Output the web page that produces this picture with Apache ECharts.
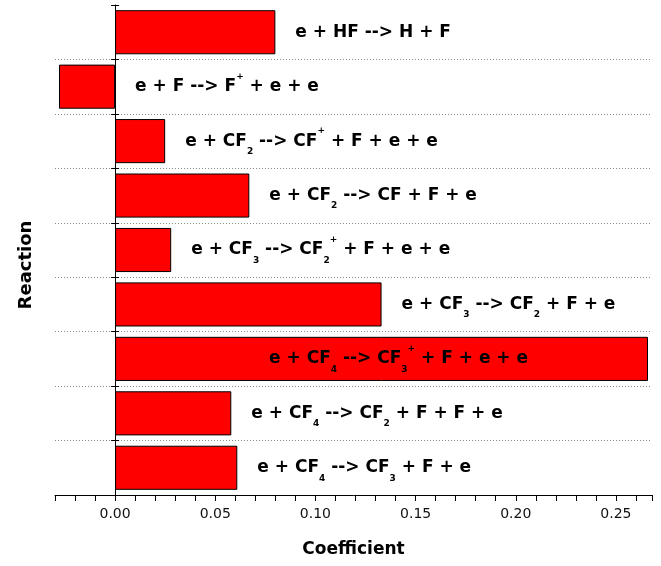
<!DOCTYPE html>
<html><head><meta charset="utf-8">
<script src="https://cdn.jsdelivr.net/npm/echarts@6/dist/echarts.min.js"></script>
<style>html,body{margin:0;padding:0;background:#fff}#c{width:661px;height:566px}</style>
</head><body><div id="c"></div>
<script>
// Reaction names: "_x" = subscript, "^x" = superscript
const reactions = [
  'e + HF --> H + F',
  'e + F --> F^+ + e + e',
  'e + CF_2 --> CF^+ + F + e + e',
  'e + CF_2 --> CF + F + e',
  'e + CF_3 --> CF_2^+ + F + e + e',
  'e + CF_3 --> CF_2 + F + e',
  'e + CF_4 --> CF_3^+ + F + e + e',
  'e + CF_4 --> CF_2 + F + F + e',
  'e + CF_4 --> CF_3 + F + e'
];
const coefficients = [0.080, -0.028, 0.025, 0.067, 0.028, 0.133, 0.266, 0.058, 0.061];
const xTickLabels = [0, 0.05, 0.10, 0.15, 0.20, 0.25];
const xMin = -0.03, xMax = 0.268;

const FONT = 'DejaVu Sans';
const W = 661, GL = 55, GR = 9;
function toRich(s) {
  return s.replace(/_(\w)/g, '{sub|$1}').replace(/\^(\S)/g, '{sup|$1}');
}
// the zero line position relative to grid left (for the second tick set)
const zeroOffset = -(0 - xMin) / (xMax - xMin) * (W - GL - GR);

const chart = echarts.init(document.getElementById('c'), null, {renderer: 'canvas'});
const option = {
  animation: false,
  backgroundColor: '#fff',
  grid: {left: GL, right: GR, top: 5, bottom: 71, containLabel: false, outerBoundsMode: 'none'},
  xAxis: {
    type: 'value', min: xMin, max: xMax, interval: 0.01,
    name: 'Coefficient', nameLocation: 'middle', nameGap: 46,
    nameTextStyle: {fontFamily: FONT, fontWeight: 'bold', fontSize: 17, color: '#000'},
    axisLine: {show: true, onZero: false, lineStyle: {color: '#000', width: 1}},
    axisTick: {show: true, length: 6, lineStyle: {color: '#000', width: 1}},
    axisLabel: {customValues: xTickLabels, formatter: v => v.toFixed(2),
      fontFamily: FONT, fontSize: 14, color: '#111', margin: 12},
    splitLine: {show: false}
  },
  yAxis: [{
    type: 'category', inverse: true, data: reactions,
    name: 'Reaction', nameLocation: 'middle', nameGap: 20, nameRotate: 90,
    nameTextStyle: {fontFamily: FONT, fontWeight: 'bold', fontSize: 18, color: '#000', padding: [0, 30, 0, 0]},
    axisLine: {show: true, onZero: true, lineStyle: {color: '#000', width: 1}},
    axisTick: {show: true, inside: true, length: 4, lineStyle: {color: '#000', width: 1}},
    axisLabel: {show: false},
    splitLine: {show: true, showMinLine: false, showMaxLine: false,
      lineStyle: {type: [1, 2], color: '#888', width: 1}}
  }, {
    type: 'category', inverse: true, data: reactions, position: 'left', offset: zeroOffset,
    axisLine: {show: false, onZero: false},
    axisTick: {show: true, inside: false, length: 4, lineStyle: {color: '#000', width: 1}},
    axisLabel: {show: false}, splitLine: {show: false}
  }],
  series: [{
    type: 'bar', yAxisIndex: 0, barCategoryGap: '19%',
    data: coefficients.map(v => ({
      value: v,
      label: v > 0.2 ? {position: 'inside', offset: [17, 0]} : {position: 'right'}
    })),
    itemStyle: {color: '#ff0000', borderColor: '#000', borderWidth: 1},
    label: {
      show: true, position: 'right', distance: 20,
      formatter: p => toRich(reactions[p.dataIndex]),
      fontFamily: FONT, fontWeight: 'bold', fontSize: 17, color: '#000', lineHeight: 30,
      rich: {
        sub: {fontFamily: FONT, fontWeight: 'bold', fontSize: 9, color: '#000', lineHeight: 10, verticalAlign: 'bottom'},
        sup: {fontFamily: FONT, fontWeight: 'bold', fontSize: 9, color: '#000', lineHeight: 10, verticalAlign: 'top'}
      }
    }
  }]
};
chart.setOption(option);
</script>
</body></html>
